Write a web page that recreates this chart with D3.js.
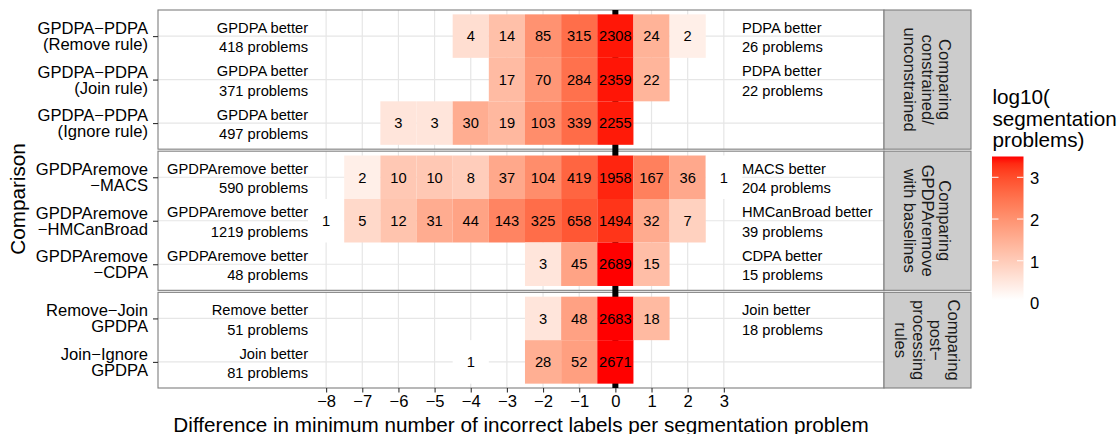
<!DOCTYPE html>
<html>
<head>
<meta charset="utf-8">
<script src="https://cdn.jsdelivr.net/npm/d3@7"></script>
<style>
  body { margin: 0; background: #fff; }
  svg { display: block; font-family: "Liberation Sans", Arial, Helvetica, sans-serif; }
</style>
</head>
<body>
<svg id="chart" width="1117" height="434"></svg>
<script>
// Difference values (x axis) and the comparisons (rows)
const diffValues = [-8, -7, -6, -5, -4, -3, -2, -1, 0, 1, 2, 3];

const comparisons = [
  "GPDPA\u2212PDPA\n(Remove rule)",
  "GPDPA\u2212PDPA\n(Join rule)",
  "GPDPA\u2212PDPA\n(Ignore rule)",
  "GPDPAremove\n\u2212MACS",
  "GPDPAremove\n\u2212HMCanBroad",
  "GPDPAremove\n\u2212CDPA",
  "Remove\u2212Join\nGPDPA",
  "Join\u2212Ignore\nGPDPA"
];

const facetLabels = [
  "Comparing\nconstrained/\nunconstrained",
  "Comparing\nGPDPAremove\nwith baselines",
  "Comparing\npost\u2212\nprocessing\nrules"
];
const comparisonFacet = [0, 0, 0, 1, 1, 1, 2, 2];

const leftNames  = ["GPDPA", "GPDPA", "GPDPA", "GPDPAremove", "GPDPAremove", "GPDPAremove", "Remove", "Join"];
const rightNames = ["PDPA", "PDPA", "PDPA", "MACS", "HMCanBroad", "CDPA", "Join", "Ignore"];

// Number of segmentation problems per difference value (aligned with diffValues)
const countsRemoveRule = [null, null, null, null, 4, 14, 85, 315, 2308, 24, 2, null];
const countsJoinRule   = [null, null, null, null, null, 17, 70, 284, 2359, 22, null, null];
const countsIgnoreRule = [null, null, 3, 3, 30, 19, 103, 339, 2255, null, null, null];
const countsMACS       = [null, 2, 10, 10, 8, 37, 104, 419, 1958, 167, 36, 1];
const countsHMCanBroad = [1, 5, 12, 31, 44, 143, 325, 658, 1494, 32, 7, null];
const countsCDPA       = [null, null, null, null, null, null, 3, 45, 2689, 15, null, null];
const countsRemoveJoin = [null, null, null, null, null, null, 3, 48, 2683, 18, null, null];
const countsJoinIgnore = [null, null, null, null, 1, null, 28, 52, 2671, null, null, null];

const rowCounts = [countsRemoveRule, countsJoinRule, countsIgnoreRule, countsMACS,
                   countsHMCanBroad, countsCDPA, countsRemoveJoin, countsJoinIgnore];

const legendBreaks = [0, 1, 2, 3];

// ---------- layout ----------
const svg = d3.select("#chart");
const panelLeft = 158, panelRight = 884, stripRight = 971;
const plotTop = 10, plotBottom = 388, panelGap = 2;
const fontAxis = 16.6, fontTitle = 20.7, fontText = 14.7;

const cells = [];
rowCounts.forEach((arr, r) => arr.forEach((c, j) => {
  if (c !== null) cells.push({ row: r, diff: diffValues[j], count: c });
}));
const maxLog = d3.max(cells, d => Math.log10(d.count));

const x = d3.scaleLinear().domain([-12.65, 7.43]).range([panelLeft, panelRight]);
const color = d3.scaleLinear().domain([0, maxLog]).range(["white", "red"]).interpolate(d3.interpolateLab);

// panel heights follow the number of rows (discrete expansion of 0.6 on each side)
const nFacets = facetLabels.length;
const rowsPerFacet = d3.range(nFacets).map(f => comparisonFacet.filter(v => v === f).length);
const unitsTotal = d3.sum(rowsPerFacet, n => n - 1 + 1.2);
const unit = (plotBottom - plotTop - panelGap * (nFacets - 1)) / unitsTotal;

let cursor = plotTop;
const panels = rowsPerFacet.map((n, f) => {
  const h = (n - 1 + 1.2) * unit;
  const rows = d3.range(comparisons.length).filter(i => comparisonFacet[i] === f);
  const y = d3.scalePoint().domain(rows).range([cursor, cursor + h]).padding(0.6);
  const p = { f, top: cursor, bottom: cursor + h, rows, y };
  cursor += h + panelGap;
  return p;
});

const tileW = x(1) - x(0);
const lineEm = 0.716;

panels.forEach(p => {
  const g = svg.append("g");
  const tileH = p.y.step();

  g.append("rect").attr("x", panelLeft).attr("y", p.top)
    .attr("width", panelRight - panelLeft).attr("height", p.bottom - p.top).attr("fill", "#fff");

  // grid lines
  g.selectAll("line.vg").data(diffValues).join("line")
    .attr("x1", d => x(d)).attr("x2", d => x(d))
    .attr("y1", p.top).attr("y2", p.bottom)
    .attr("stroke", "#e6e6e6").attr("stroke-width", 1.2);
  g.selectAll("line.hg").data(p.rows).join("line")
    .attr("x1", panelLeft).attr("x2", panelRight)
    .attr("y1", d => p.y(d)).attr("y2", d => p.y(d))
    .attr("stroke", "#e6e6e6").attr("stroke-width", 1.2);

  g.append("rect").attr("x", panelLeft).attr("y", p.top)
    .attr("width", panelRight - panelLeft).attr("height", p.bottom - p.top)
    .attr("fill", "none").attr("stroke", "#7f7f7f").attr("stroke-width", 1.1);

  // strip on the right
  g.append("rect").attr("x", panelRight).attr("y", p.top)
    .attr("width", stripRight - panelRight).attr("height", p.bottom - p.top)
    .attr("fill", "#cccccc").attr("stroke", "#7f7f7f").attr("stroke-width", 1.1);
  const lines = facetLabels[p.f].split("\n");
  const cx = (panelRight + stripRight) / 2, cy = (p.top + p.bottom) / 2, ls = 17.7;
  lines.forEach((t, i) => {
    const bx = cx - fontAxis * lineEm / 2 + ((lines.length - 1) / 2 - i) * ls;
    g.append("text").attr("transform", `translate(${bx},${cy}) rotate(90)`)
      .attr("text-anchor", "middle").attr("font-size", fontAxis).attr("fill", "#1a1a1a").text(t);
  });

  p.g = g;
  p.tileH = tileH;
});

// zero reference line
svg.append("rect").attr("x", x(0) - 3).attr("y", plotTop)
  .attr("width", 6).attr("height", plotBottom - plotTop).attr("fill", "#000");

panels.forEach(p => {
  const g = svg.append("g");
  const pc = cells.filter(d => comparisonFacet[d.row] === p.f);
  g.selectAll("rect").data(pc).join("rect")
    .attr("x", d => x(d.diff - 0.5)).attr("y", d => p.y(d.row) - p.tileH / 2)
    .attr("width", tileW).attr("height", p.tileH)
    .attr("fill", d => color(Math.log10(d.count)));
  g.selectAll("text.count").data(pc).join("text")
    .attr("x", d => x(d.diff)).attr("y", d => p.y(d.row) + fontText * lineEm / 2)
    .attr("text-anchor", "middle").attr("font-size", fontText).attr("fill", "#000")
    .text(d => d.count);

  // summary labels on each side of zero
  p.rows.forEach(r => {
    const arr = rowCounts[r];
    const leftN = d3.sum(diffValues.map((d, j) => d < 0 ? (arr[j] || 0) : 0));
    const rightN = d3.sum(diffValues.map((d, j) => d > 0 ? (arr[j] || 0) : 0));
    const c = p.y(r), s = 19.5;
    const b1 = c - 3.4;
    const side = (name, n, xv, anchor) => {
      if (n <= 0) return;
      const t = g.append("text").attr("x", x(xv)).attr("text-anchor", anchor)
        .attr("font-size", fontText).attr("fill", "#000");
      t.append("tspan").attr("x", x(xv)).attr("y", b1).text(`${name} better`);
      t.append("tspan").attr("x", x(xv)).attr("y", b1 + s).text(`${n} problems`);
    };
    side(leftNames[r], leftN, -8.5, "end");
    side(rightNames[r], rightN, 3.5, "start");
  });

  // y axis for the panel
  const ax = svg.append("g").attr("transform", `translate(${panelLeft},0)`)
    .call(d3.axisLeft(p.y).tickSize(5).tickPadding(5).tickSizeOuter(0).tickFormat(""));
  ax.select(".domain").remove();
  ax.selectAll(".tick line").attr("stroke", "#333").attr("stroke-width", 1.1);
  p.rows.forEach(r => {
    const parts = comparisons[r].split("\n");
    const s = 16, c = p.y(r);
    const b1 = c - (s - fontAxis * lineEm) / 2;
    parts.forEach((txt, i) => svg.append("text").attr("text-anchor", "end")
      .attr("font-size", fontAxis).attr("fill", "#000")
      .attr("x", panelLeft - 10).attr("y", b1 + i * s).text(txt));
  });
});

// x axis
const xAxis = svg.append("g").attr("transform", `translate(0,${plotBottom})`)
  .call(d3.axisBottom(x).tickValues(diffValues).tickSize(4.5).tickPadding(3).tickSizeOuter(0)
    .tickFormat(d => d < 0 ? "\u2212" + Math.abs(d) : String(d)));
xAxis.select(".domain").remove();
xAxis.selectAll(".tick line").attr("stroke", "#333").attr("stroke-width", 1.1);
xAxis.selectAll(".tick text").attr("font-size", fontAxis).attr("fill", "#000")
  .attr("font-family", "Liberation Sans, Arial, sans-serif");

svg.append("text").attr("x", (panelLeft + panelRight) / 2).attr("y", 432)
  .attr("text-anchor", "middle").attr("font-size", fontTitle).attr("fill", "#000")
  .text("Difference in minimum number of incorrect labels per segmentation problem");

svg.append("text").attr("transform", `translate(25,${(plotTop + plotBottom) / 2}) rotate(-90)`)
  .attr("text-anchor", "middle").attr("font-size", fontTitle).attr("fill", "#000")
  .text("Comparison");

// legend
const lg = svg.append("g");
const legendTitle = ["log10(", "segmentation", "problems)"];
legendTitle.forEach((t, i) => lg.append("text").attr("x", 992.5).attr("y", 104 + i * 21.5)
  .attr("font-size", fontTitle).attr("fill", "#000").text(t));

const barX = 992, barW = 31.5, barTop = 156.5, barBottom = 300;
const grad = svg.append("defs").append("linearGradient").attr("id", "lgrad")
  .attr("x1", 0).attr("y1", 1).attr("x2", 0).attr("y2", 0);
d3.range(0, 1.0001, 0.05).forEach(o => grad.append("stop")
  .attr("offset", o).attr("stop-color", color(o * maxLog)));
lg.append("rect").attr("x", barX).attr("y", barTop).attr("width", barW)
  .attr("height", barBottom - barTop).attr("fill", "url(#lgrad)");

const ly = d3.scaleLinear().domain([0, 3]).range([302.5, 177.3]);
legendBreaks.filter(v => v > 0).forEach(v => {
  lg.append("line").attr("x1", barX).attr("x2", barX + 6.5).attr("y1", ly(v)).attr("y2", ly(v))
    .attr("stroke", "#fff").attr("stroke-width", 1);
  lg.append("line").attr("x1", barX + barW - 6.5).attr("x2", barX + barW).attr("y1", ly(v)).attr("y2", ly(v))
    .attr("stroke", "#fff").attr("stroke-width", 1);
});
legendBreaks.forEach(v => lg.append("text").attr("x", 1030).attr("y", ly(v) + 1 + fontAxis * lineEm / 2)
  .attr("font-size", fontAxis).attr("fill", "#000").text(v));
</script>
</body>
</html>
